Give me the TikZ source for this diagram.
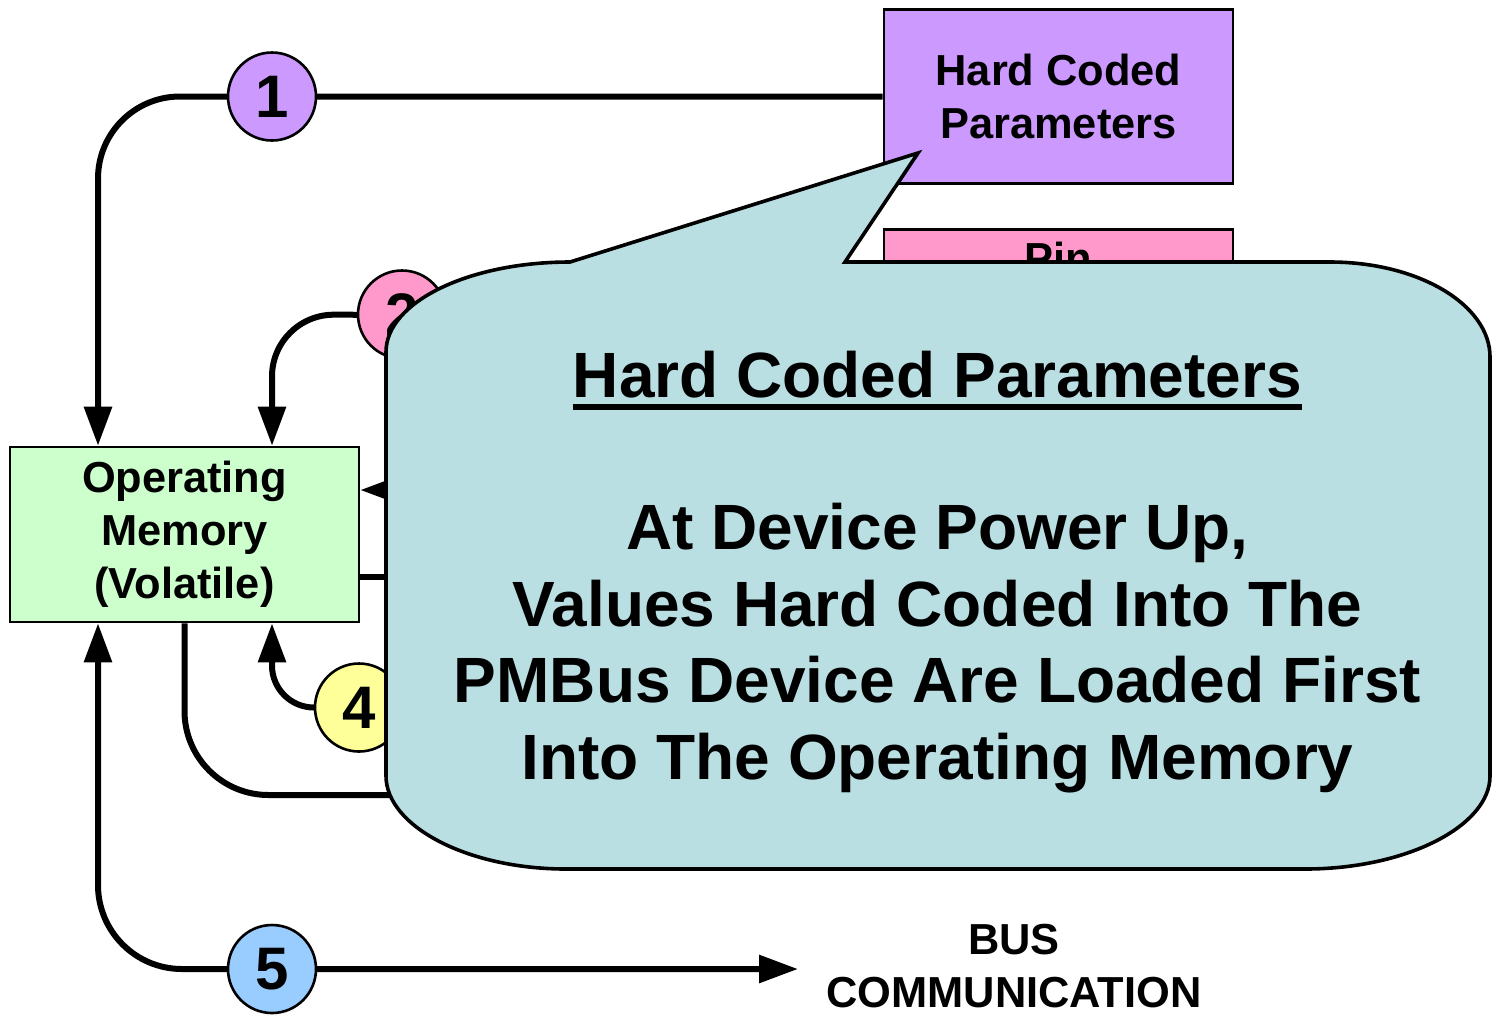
\documentclass[tikz,border=0pt]{standalone}
\usepackage{fontspec}
\setmainfont{Liberation Sans}
\usetikzlibrary{arrows.meta,calc}
\definecolor{cpurple}{HTML}{CC99FF}
\definecolor{cpink}{HTML}{FF99CC}
\definecolor{cgreen}{HTML}{CCFFCC}
\definecolor{cyellow}{HTML}{FFFF99}
\definecolor{cblue}{HTML}{99CCFF}
\definecolor{cbubble}{HTML}{BADFE2}
\pgfdeclarelayer{bg}
\pgfdeclarelayer{wires}
\pgfsetlayers{bg,wires,main}
\begin{document}
\begin{tikzpicture}[x=0.5pt,y=-0.5pt,
  box/.style={draw=black,line width=1.3pt,rectangle,minimum width=174.5pt,minimum height=87pt,inner sep=0pt,align=center,font=\fontsize{21.7}{26.5}\selectfont\bfseries},
  num/.style={circle,draw=black,line width=1.3pt,minimum size=44pt,inner sep=0pt,font=\fontsize{30}{30}\selectfont\bfseries},
  conn/.style={line width=3pt},
  tip/.style={-{Triangle[length=19.5pt,width=13.5pt]}},
  lbl/.style={align=center,inner sep=0pt,font=\fontsize{21.7}{26.5}\selectfont\bfseries},
  big/.style={align=center,inner sep=0pt,font=\fontsize{32}{38.25}\selectfont\bfseries}
]
\useasboundingbox (0,0) rectangle (1493,1014);
\begin{pgfonlayer}{bg}
\fill[white] (0,0) rectangle (1493,1014);
\end{pgfonlayer}

% boxes
\node[box,fill=cpurple] (hcp) at (1058.5,96.5) {Hard Coded\\Parameters};
\node[box,fill=cpink,anchor=north] (pin) at (1058.5,228) {};
\node[lbl,anchor=base] (pintext) at (1058.5,273) {Pin};
\node[box,fill=cgreen,minimum height=87.5pt] (om) at (184.5,534.5) {Operating\\Memory\\(Volatile)};

% numbered circles
\node[num,fill=cpurple] (c1) at (272,96.5) {1};
\node[num,fill=cpink] (c2) at (402,314.5) {2};
\node[num,fill=cyellow] (c4) at (359,707.5) {4};
\node[num,fill=cblue] (c5) at (272,969) {5};

\node[lbl] (bus) at (1014,966) {BUS\\COMMUNICATION};

% helper coordinates
\coordinate (k1) at (98,96.5);
\coordinate (k2) at (272,314.5);
\coordinate (h3) at (700,490);
\coordinate (h3b) at (700,577);
\coordinate (h4) at (700,707.5);
\coordinate (k4) at (272,707.5);
\coordinate (k6) at (184.5,795);
\coordinate (h6) at (700,795);
\coordinate (k5) at (98,969);
\coordinate (e5) at (798,969);

\begin{pgfonlayer}{wires}
\draw[conn,tip,rounded corners=41pt] (hcp.west) -- (k1) -- (k1 |- om.north);
\draw[conn,tip,rounded corners=31pt] (pin.west) -- (k2) -- (k2 |- om.north);
\draw[conn,tip] (h3) -- (h3 -| om.east);
\draw[conn] (om.east |- h3b) -- (h3b);
\draw[conn,tip,rounded corners=21pt] (h4) -- (k4) -- (k4 |- om.south);
\draw[conn,rounded corners=42pt] (om.south) -- (k6) -- (h6);
\draw[conn,{Triangle[length=19.5pt,width=13.5pt]}-{Triangle[length=19.5pt,width=13.5pt]},rounded corners=42pt] (k5 |- om.south) -- (k5) -- (e5);
\end{pgfonlayer}

% callout bubble
\draw[line width=1.8pt,fill=cbubble,line join=miter]
  (386,352) .. controls (386,302.3) and (468.4,262) .. (570,262)
  -- (918,153) -- (845,262) -- (1330,262)
  .. controls (1418.3,262) and (1490,304.6) .. (1490,357)
  -- (1490,776)
  .. controls (1490,825.7) and (1407,869) .. (1305,869)
  -- (566,869)
  .. controls (466.6,869) and (386,825.7) .. (386,776)
  -- cycle;

\node[big,anchor=base] (title) at (937.5,397) {Hard Coded Parameters};
\draw[line width=3pt] ([yshift=-5pt]title.base west) -- ([yshift=-5pt]title.base east);
\node[big] (body) at (937.5,648) {At Device Power Up,\\Values Hard Coded Into The\\PMBus Device Are Loaded First\\Into The Operating Memory};
\end{tikzpicture}
\end{document}
